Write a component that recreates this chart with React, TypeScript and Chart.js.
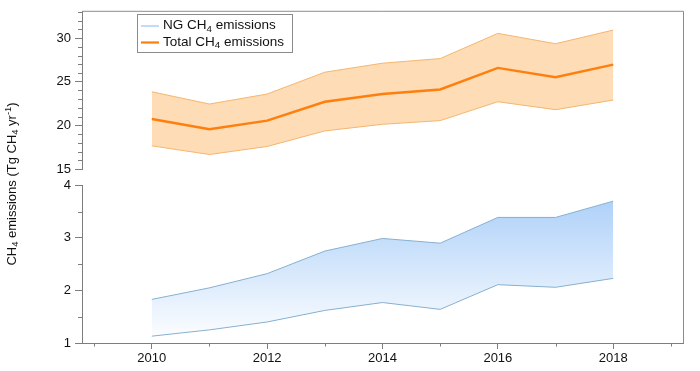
import React, { useEffect, useRef } from 'react';
import { Chart, registerables } from 'chart.js';
Chart.register(...registerables);

const years = [2010, 2011, 2012, 2013, 2014, 2015, 2016, 2017, 2018];
const totalMid = [20.74, 19.56, 20.55, 22.71, 23.59, 24.11, 26.58, 25.52, 26.96];
const totalHigh = [23.85, 22.45, 23.59, 26.09, 27.12, 27.65, 30.53, 29.35, 30.91];
const totalLow = [17.66, 16.67, 17.59, 19.37, 20.13, 20.55, 22.71, 21.8, 22.9];
const ngHigh = [1.83, 2.05, 2.32, 2.75, 2.99, 2.9, 3.39, 3.39, 3.7];
const ngLow = [1.13, 1.25, 1.4, 1.62, 1.77, 1.64, 2.11, 2.06, 2.23];

const xMajorTicks = [2010, 2012, 2014, 2016, 2018];
const xMinorTicks = [2009, 2011, 2013, 2015, 2017, 2019];
const upperMajorTicks = [15, 20, 25, 30];
const upperMinorTicks = [16, 17, 18, 19, 21, 22, 23, 24, 26, 27, 28, 29, 31, 32, 33];
const lowerMajorTicks = [1, 2, 3, 4];
const lowerMinorTicks = [1.5, 2.5, 3.5];

const FONT = '"Liberation Sans", Arial, Helvetica, sans-serif';
const AXIS = '#7d7d7d';

type Part = { t: string; k?: 'sub' | 'sup' };

function richWidth(ctx: CanvasRenderingContext2D, parts: Part[], size: number) {
  let w = 0;
  for (const p of parts) {
    ctx.font = `${p.k ? size * 0.72 : size}px ${FONT}`;
    w += ctx.measureText(p.t).width;
  }
  return w;
}

function drawRich(ctx: CanvasRenderingContext2D, parts: Part[], x: number, y: number, size: number) {
  let cx = x;
  ctx.textBaseline = 'middle';
  ctx.textAlign = 'left';
  for (const p of parts) {
    ctx.font = `${p.k ? size * 0.72 : size}px ${FONT}`;
    const dy = p.k === 'sub' ? size * 0.28 : p.k === 'sup' ? -size * 0.3 : 0;
    ctx.fillText(p.t, cx, y + dy);
    cx += ctx.measureText(p.t).width;
  }
}

const decorPlugin = {
  id: 'decor',
  afterDraw(chart: any) {
    const ctx: CanvasRenderingContext2D = chart.ctx;
    const { left, right, top, bottom } = chart.chartArea;
    ctx.save();
    // frame top and right
    ctx.strokeStyle = '#8c8c8c';
    ctx.lineWidth = 1;
    ctx.beginPath();
    ctx.moveTo(left, top - 0.5);
    ctx.lineTo(right + 0.5, top - 0.5);
    ctx.lineTo(right + 0.5, bottom);
    ctx.stroke();

    // minor ticks
    ctx.strokeStyle = AXIS;
    ctx.beginPath();
    const yH = chart.scales.yHigh;
    const yL = chart.scales.yLow;
    const xs = chart.scales.x;
    for (const v of upperMinorTicks) {
      const py = Math.round(yH.getPixelForValue(v)) + 0.5;
      ctx.moveTo(left - 4, py);
      ctx.lineTo(left, py);
    }
    for (const v of lowerMinorTicks) {
      const py = Math.round(yL.getPixelForValue(v)) + 0.5;
      ctx.moveTo(left - 4, py);
      ctx.lineTo(left, py);
    }
    for (const v of xMinorTicks) {
      const px = Math.round(xs.getPixelForValue(v)) + 0.5;
      ctx.moveTo(px, bottom);
      ctx.lineTo(px, bottom + 3.5);
    }
    ctx.stroke();

    // legend
    ctx.fillStyle = '#ffffff';
    ctx.fillRect(137.5, 14.5, 155, 38);
    ctx.strokeStyle = '#8c8c8c';
    ctx.strokeRect(137.5, 14.5, 155, 38);
    ctx.lineWidth = 2;
    ctx.strokeStyle = '#c3dbf6';
    ctx.beginPath();
    ctx.moveTo(141, 26);
    ctx.lineTo(159, 26);
    ctx.stroke();
    ctx.lineWidth = 2.2;
    ctx.strokeStyle = '#ff7f0e';
    ctx.beginPath();
    ctx.moveTo(141, 42.5);
    ctx.lineTo(159, 42.5);
    ctx.stroke();
    ctx.fillStyle = '#111';
    drawRich(ctx, [{ t: 'NG CH' }, { t: '4', k: 'sub' }, { t: ' emissions' }], 163, 25.5, 13.5);
    drawRich(ctx, [{ t: 'Total CH' }, { t: '4', k: 'sub' }, { t: ' emissions' }], 163, 42, 13.5);

    // y title
    const parts: Part[] = [
      { t: 'CH' }, { t: '4', k: 'sub' }, { t: ' emissions (Tg CH' }, { t: '4', k: 'sub' },
      { t: ' yr' }, { t: '-1', k: 'sup' }, { t: ')' },
    ];
    const w = richWidth(ctx, parts, 13);
    ctx.translate(12, 184);
    ctx.rotate(-Math.PI / 2);
    drawRich(ctx, parts, -w / 2, 0, 13);
    ctx.restore();
  },
};

function ngGradient(context: any) {
  const chart = context.chart;
  const s = chart.scales && chart.scales.yLow;
  if (!chart.chartArea || !s) return 'rgba(200,222,250,0.8)';
  const g = chart.ctx.createLinearGradient(0, s.getPixelForValue(4), 0, s.getPixelForValue(1));
  g.addColorStop(0, 'rgb(166,204,248)');
  g.addColorStop(1, 'rgb(255,255,255)');
  return g;
}

export default function App() {
  const ref = useRef<HTMLCanvasElement | null>(null);
  useEffect(() => {
    if (!ref.current) return;
    const pts = (arr: number[]) => years.map((x, i) => ({ x, y: arr[i] }));
    const tickFont = { family: FONT, size: 13 };
    const chart = new Chart(ref.current, {
      type: 'line',
      data: {
        datasets: [
          {
            label: 'NG low', data: pts(ngLow), yAxisID: 'yLow', borderColor: '#86b0d0',
            borderWidth: 1, pointRadius: 0, fill: false, tension: 0, order: 2,
          },
          {
            label: 'NG CH4 emissions', data: pts(ngHigh), yAxisID: 'yLow', borderColor: '#86b0d0',
            borderWidth: 1, pointRadius: 0, fill: '-1', backgroundColor: ngGradient, tension: 0, order: 2,
          },
          {
            label: 'Total low', data: pts(totalLow), yAxisID: 'yHigh', borderColor: '#f4b66e',
            borderWidth: 1, pointRadius: 0, fill: false, tension: 0, order: 2,
          },
          {
            label: 'Total high', data: pts(totalHigh), yAxisID: 'yHigh', borderColor: '#f4b66e',
            borderWidth: 1, pointRadius: 0, fill: '-1', backgroundColor: 'rgb(253,220,182)', tension: 0, order: 2,
          },
          {
            label: 'Total CH4 emissions', data: pts(totalMid), yAxisID: 'yHigh', borderColor: '#ff7f0e',
            borderWidth: 2.4, pointRadius: 0, fill: false, tension: 0, order: 0,
          },
        ],
      },
      options: {
        responsive: false,
        animation: false,
        devicePixelRatio: 1,
        layout: { padding: { left: 52, right: 17, top: 11, bottom: 4 } },
        plugins: { legend: { display: false }, tooltip: { enabled: false } },
        scales: {
          x: {
            type: 'linear', min: 2008.79, max: 2019.21,
            afterBuildTicks: (s: any) => { s.ticks = xMajorTicks.map((v) => ({ value: v })); },
            afterFit: (s: any) => { s.height = 24; },
            ticks: { font: tickFont, color: '#111', padding: 2, autoSkip: false, maxRotation: 0, callback: (v: any) => String(v) },
            grid: { drawOnChartArea: false, tickLength: 6, tickColor: AXIS },
            border: { color: AXIS },
          },
          yLow: {
            type: 'linear', position: 'left', stack: 'y', stackWeight: 158, min: 1, max: 4,
            afterBuildTicks: (s: any) => { s.ticks = lowerMajorTicks.map((v) => ({ value: v })); },
            afterFit: (s: any) => { s.width = 30; },
            ticks: { font: tickFont, color: '#111', padding: 4, callback: (v: any) => String(v) },
            grid: { drawOnChartArea: false, tickLength: 7, tickColor: AXIS },
            border: { color: AXIS },
          },
          yGap: {
            type: 'linear', position: 'left', stack: 'y', stackWeight: 16.3, min: 0, max: 1,
            afterFit: (s: any) => { s.width = 30; },
            ticks: { display: false },
            grid: { display: false },
            border: { display: false },
          },
          yHigh: {
            type: 'linear', position: 'left', stack: 'y', stackWeight: 157.7, min: 15, max: 33,
            afterBuildTicks: (s: any) => { s.ticks = upperMajorTicks.map((v) => ({ value: v })); },
            afterFit: (s: any) => { s.width = 30; },
            ticks: { font: tickFont, color: '#111', padding: 4, callback: (v: any) => String(v) },
            grid: { drawOnChartArea: false, tickLength: 7, tickColor: AXIS },
            border: { color: AXIS },
          },
        },
      } as any,
      plugins: [decorPlugin],
    });
    return () => chart.destroy();
  }, []);
  return (
    <div style={{ position: 'absolute', left: 0, top: 0, width: 700, height: 371, background: '#fff' }}>
      <canvas ref={ref} width={700} height={371} style={{ display: 'block' }} />
    </div>
  );
}
